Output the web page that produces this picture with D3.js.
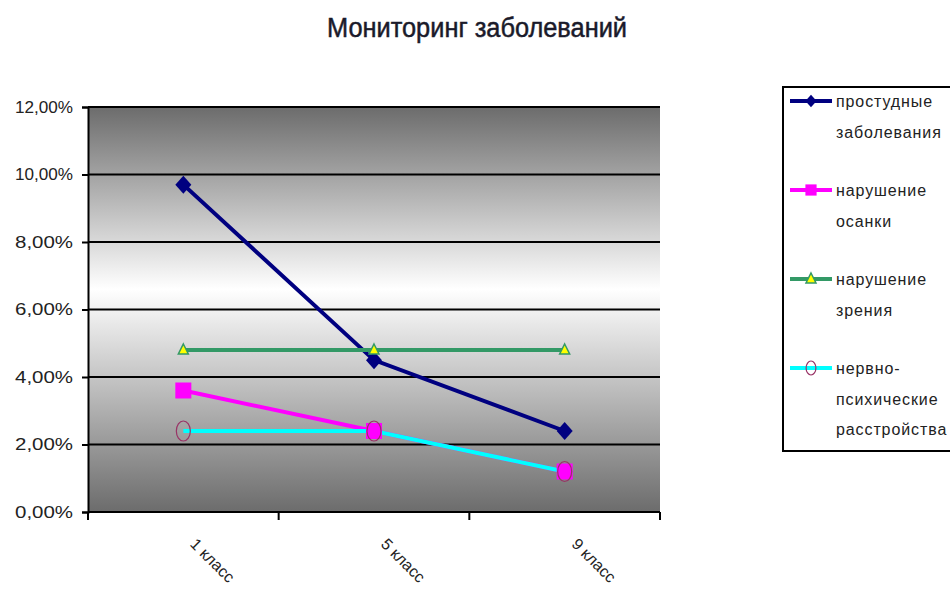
<!DOCTYPE html>
<html>
<head>
<meta charset="utf-8">
<script src="https://cdn.jsdelivr.net/npm/d3@7/dist/d3.min.js"></script>
<style>
  body { margin: 0; background: #fff; }
  text { font-family: "Liberation Sans", Arial, sans-serif; }
</style>
</head>
<body>
<script>
var w = 950;
var h = 606;

var categories = ["1 класс", "5 класс", "9 класс"];
var yTicks = [0, 0.02, 0.04, 0.06, 0.08, 0.10, 0.12];

var colds = [0.097, 0.045, 0.024];
var posture = [0.036, 0.024, 0.012];
var vision = [0.048, 0.048, 0.048];
var nervous = [0.024, 0.024, 0.012];

var seriesNames = [["простудные", "заболевания"], ["нарушение", "осанки"],
                   ["нарушение", "зрения"], ["нервно-", "психические", "расстройства"]];

var series = [
  { name: seriesNames[0], values: colds, line: "#000080", marker: "diamond" },
  { name: seriesNames[1], values: posture, line: "#ff00ff", marker: "square" },
  { name: seriesNames[2], values: vision, line: "#339966", marker: "triangle" },
  { name: seriesNames[3], values: nervous, line: "#00ffff", marker: "circle" }
];

var plotL = 88, plotR = 660, plotT = 107, plotB = 512;

var svg = d3.select("body").append("svg")
            .attr("width", w)
            .attr("height", h);

var x = d3.scaleBand().domain(categories).range([plotL, plotR]);
var y = d3.scaleLinear().domain([0, 0.12]).range([plotB, plotT]);

// background gradient, dark - white - dark
var grad = svg.append("defs").append("linearGradient")
              .attr("id", "bg").attr("x1", 0).attr("y1", 0).attr("x2", 0).attr("y2", 1);
grad.append("stop").attr("offset", "0%").attr("stop-color", "#6c6c6c");
grad.append("stop").attr("offset", "45%").attr("stop-color", "#ffffff");
grad.append("stop").attr("offset", "100%").attr("stop-color", "#6c6c6c");

svg.append("rect")
   .attr("x", plotL).attr("y", plotT)
   .attr("width", plotR - plotL).attr("height", plotB - plotT)
   .attr("fill", "url(#bg)");

// gridlines
svg.selectAll("line.grid")
   .data(yTicks.slice(1))
   .enter().append("line")
   .attr("class", "grid")
   .attr("x1", plotL).attr("x2", plotR)
   .attr("y1", function(d){ return y(d); })
   .attr("y2", function(d){ return y(d); })
   .attr("stroke", "#000").attr("stroke-width", 2);

// y axis
var yAxis = svg.append("g")
   .attr("transform", "translate(" + plotL + ",0)")
   .call(d3.axisLeft(y).tickValues(yTicks).tickSize(6)
           .tickFormat(function(d){ return (d * 100).toFixed(2).replace(".", ",") + "%"; }));
yAxis.select(".domain").attr("stroke", "#000").attr("stroke-width", 2);
yAxis.selectAll(".tick line").attr("stroke", "#000").attr("stroke-width", 2);
yAxis.selectAll(".tick text")
     .attr("x", -15)
     .attr("font-size", "17px")
     .attr("fill", "#222")
     .attr("textLength", 58)
     .attr("lengthAdjust", "spacingAndGlyphs")
     .style("font-family", "'Liberation Sans', Arial, sans-serif");

// x axis
var xAxis = svg.append("g").attr("transform", "translate(0," + plotB + ")");
xAxis.append("line")
     .attr("x1", plotL).attr("x2", plotR)
     .attr("stroke", "#000").attr("stroke-width", 2);
var bounds = categories.map(function(c){ return x(c); }).concat([plotR]);
xAxis.selectAll("line.tk")
     .data(bounds)
     .enter().append("line")
     .attr("class", "tk")
     .attr("x1", function(d){ return d; }).attr("x2", function(d){ return d; })
     .attr("y1", 0).attr("y2", 8)
     .attr("stroke", "#000").attr("stroke-width", 2);
xAxis.selectAll("text")
     .data(categories)
     .enter().append("text")
     .attr("transform", function(d){
         return "translate(" + (x(d) + x.bandwidth() / 2 + 6) + ",33) rotate(45)";
     })
     .attr("font-size", "16px")
     .attr("fill", "#222")
     .text(function(d){ return d; });

// lines and markers
var line = d3.line()
   .x(function(d, i){ return x(categories[i]) + x.bandwidth() / 2; })
   .y(function(d){ return y(d); });

series.forEach(function(s){
  svg.append("path")
     .datum(s.values)
     .attr("d", line)
     .attr("fill", "none")
     .attr("stroke", s.line)
     .attr("stroke-width", 4);
});

function drawMarker(g, type, cx, cy, scale){
  scale = scale || 1;
  var k = scale;
  if (type === "diamond") {
    g.append("path")
     .attr("d", "M0," + (-9 * k) + "L" + (8 * k) + ",0L0," + (9 * k) + "L" + (-8 * k) + ",0Z")
     .attr("transform", "translate(" + cx + "," + cy + ")")
     .attr("fill", "#000080");
  } else if (type === "square") {
    g.append("rect")
     .attr("x", cx - 8 * k).attr("y", cy - 8 * k)
     .attr("width", 16 * k).attr("height", 16 * k)
     .attr("fill", "#ff00ff");
  } else if (type === "triangle") {
    g.append("path")
     .attr("d", "M0,-6L5,4L-5,4Z")
     .attr("transform", "translate(" + cx + "," + cy + ")")
     .attr("fill", "#ffff00").attr("stroke", "#339966").attr("stroke-width", 1.5);
  } else {
    g.append("ellipse")
     .attr("cx", cx).attr("cy", cy)
     .attr("rx", 7 * k).attr("ry", 10 * k)
     .attr("fill", "none").attr("stroke", "#993366").attr("stroke-width", 1.2);
  }
}

series.forEach(function(s){
  var g = svg.append("g");
  s.values.forEach(function(v, i){
    drawMarker(g, s.marker, x(categories[i]) + x.bandwidth() / 2, y(v));
  });
});

// title
svg.append("text")
   .attr("x", 477).attr("y", 37)
   .attr("text-anchor", "middle")
   .attr("font-size", "27px")
   .attr("fill", "#1a1a2a")
   .attr("stroke", "#1a1a2a")
   .attr("stroke-width", 0.5)
   .attr("textLength", 300)
   .attr("lengthAdjust", "spacingAndGlyphs")
   .text("Мониторинг заболеваний");

// legend
var lg = svg.append("g");
lg.append("rect")
  .attr("x", 783).attr("y", 87)
  .attr("width", 170).attr("height", 364)
  .attr("fill", "#fff").attr("stroke", "#000").attr("stroke-width", 2);

var legendY = [101, 190, 279, 368];
series.forEach(function(s, i){
  var ly = legendY[i];
  lg.append("line")
    .attr("x1", 790).attr("x2", 832)
    .attr("y1", ly).attr("y2", ly)
    .attr("stroke", s.line).attr("stroke-width", 4);
  drawMarker(lg, s.marker, 811, ly, 0.7);
  s.name.forEach(function(t, j){
    lg.append("text")
      .attr("x", 836).attr("y", ly + 6 + j * 30.5)
      .attr("font-size", "16px")
      .attr("fill", "#222")
      .style("letter-spacing", "0.9px")
      .text(t);
  });
});
</script>
</body>
</html>
